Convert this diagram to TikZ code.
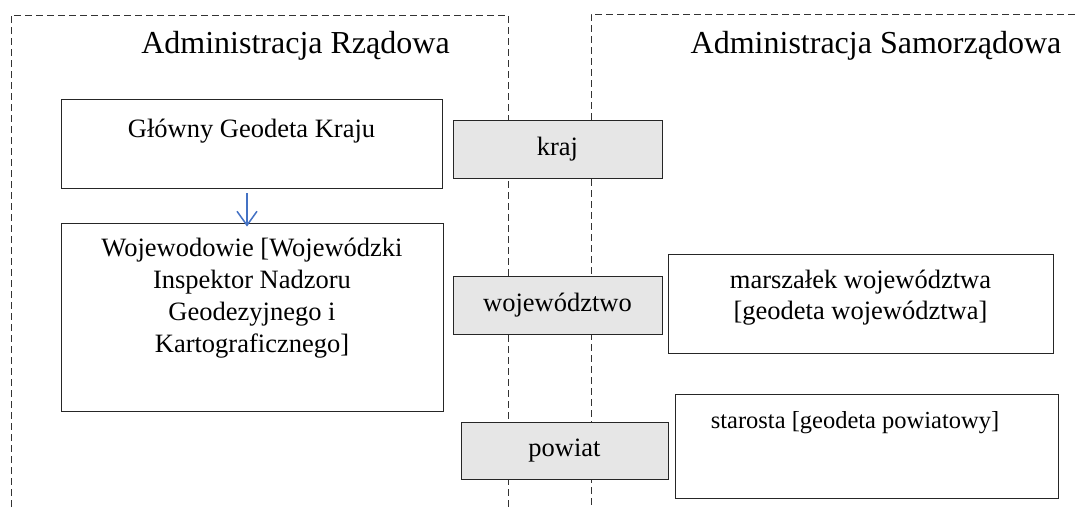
\documentclass[tikz,border=0pt]{standalone}
\usepackage{fontspec}
\setmainfont{Liberation Serif}
\usetikzlibrary{arrows.meta}
\definecolor{kolstrz}{HTML}{4472C4}
\definecolor{szary}{HTML}{E6E6E6}

\begin{document}
\begin{tikzpicture}[x=1pt,y=-1pt,
		ramka/.style={draw=black!80,dashed,dash pattern=on 7pt off 4pt,line width=0.8pt},
		pole/.style={draw=black!85,line width=0.9pt,inner sep=0pt},
		szare/.style={pole,fill=szary,font=\fontsize{26.5}{31}\selectfont},
		napis/.style={font=\fontsize{26.5}{32}\selectfont,align=center,inner sep=0pt,anchor=north},
		tytul/.style={font=\fontsize{32}{36}\selectfont,inner sep=0pt,anchor=base}]
			\useasboundingbox (0,0) rectangle (1075,507);
			\draw[ramka] (11,507) -- (11,15) -- (508,15) -- (508,507);
			\draw[ramka] (1075,14) -- (591,14) -- (591,507);
			\node[tytul] (rz) at (295.5,53) {Administracja Rządowa};
			\node[tytul] (sam) at (876,53) {Administracja Samorządowa};

			\node[pole,minimum width=381,minimum height=89] (ggk) at (251.5,143.5) {};
			\node[napis] (ggkt) at ([yshift=-20]ggk.north) {Główny Geodeta Kraju};
			\node[pole,minimum width=382,minimum height=188] (woj) at (252,317) {};
			\node[napis] (wojt) at ([yshift=-15]woj.north) {Wojewodowie [Wojewódzki\\Inspektor Nadzoru\\Geodezyjnego i\\Kartograficznego]};

			\node[szare,minimum width=209,minimum height=58] (kraj) at (557.5,149) {kraj};
			\node[szare,minimum width=209,minimum height=58] (wojew) at (557.5,305) {województwo};
			\node[szare,minimum width=207,minimum height=57] (pow) at (564.5,450.5) {powiat};

			\node[pole,minimum width=385,minimum height=99] (marsz) at (860.5,303.5) {};
			\node[napis,font=\fontsize{26.5}{31.5}\selectfont] (marszt) at ([yshift=-16]marsz.north) {marszałek województwa\\{}[geodeta województwa]};
			\node[pole,minimum width=383,minimum height=104] (star) at (866.5,446) {};
			\node[napis,font=\fontsize{24.5}{30}\selectfont] (start) at ([xshift=-11.5,yshift=-18]star.north) {starosta [geodeta powiatowy]};

			\draw[kolstrz,line width=1.5pt,-{Straight Barb[length=14pt,width=20pt]}] ([xshift=-4.5,yshift=-5]ggk.south) -- ([xshift=-5,yshift=-4]woj.north);
		\end{tikzpicture}
\end{document}
